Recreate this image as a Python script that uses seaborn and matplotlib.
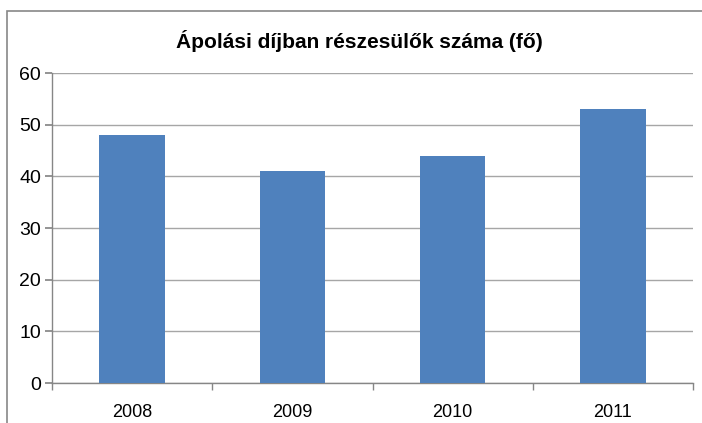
import matplotlib
matplotlib.use("Agg")
import matplotlib.pyplot as plt
import matplotlib.patches as mpatches
import seaborn as sns
import pandas as pd

years = ["2008", "2009", "2010", "2011"]
counts = [48, 41, 44, 53]
title = "Ápolási díjban részesülők száma (fő)"

sns.set_theme(style="white")
plt.rcParams["font.family"] = ["Liberation Sans", "DejaVu Sans"]
plt.rcParams["text.color"] = "black"

df = pd.DataFrame({"year": years, "count": counts})

fig = plt.figure(figsize=(7.02, 4.23), dpi=100)
ax = fig.add_axes([52 / 702, 40 / 423, (693 - 52) / 702, (383 - 73) / 423])

sns.barplot(data=df, x="year", y="count", color="#4F81BD", width=0.41,
            saturation=1, edgecolor="none", ax=ax, zorder=3)

ax.set_xlim(-0.5, 3.5)
ax.set_ylim(0, 60)
ax.set_yticks(range(0, 61, 10))
ax.set_xlabel("")
ax.set_ylabel("")
ax.grid(axis="y", color="#A6A6A6", linewidth=1, zorder=0)
ax.set_axisbelow(True)

for s in ["top", "right"]:
    ax.spines[s].set_visible(False)
for s in ["left", "bottom"]:
    ax.spines[s].set_color("#868686")
    ax.spines[s].set_linewidth(1)

ax.tick_params(axis="y", which="major", left=True, length=5, color="#868686",
               labelsize=14, pad=3, labelcolor="black")
ax.tick_params(axis="x", which="major", bottom=False, labelsize=13, pad=9,
               labelcolor="black")
ax.set_xticks([-0.5, 0.5, 1.5, 2.5, 3.5], minor=True)
ax.tick_params(axis="x", which="minor", bottom=True, length=5, color="#868686")

fig.suptitle(title, x=359 / 702, y=1 - 41 / 423, va="center",
             fontsize=15, fontweight="bold", color="black")

border = mpatches.Rectangle((7 / 702, -0.2), 1.2, 1.2 - 11 / 423,
                            transform=fig.transFigure, fill=False,
                            edgecolor="#878787", linewidth=1.2)
fig.patches.append(border)

fig.savefig("out.png", dpi=100)
